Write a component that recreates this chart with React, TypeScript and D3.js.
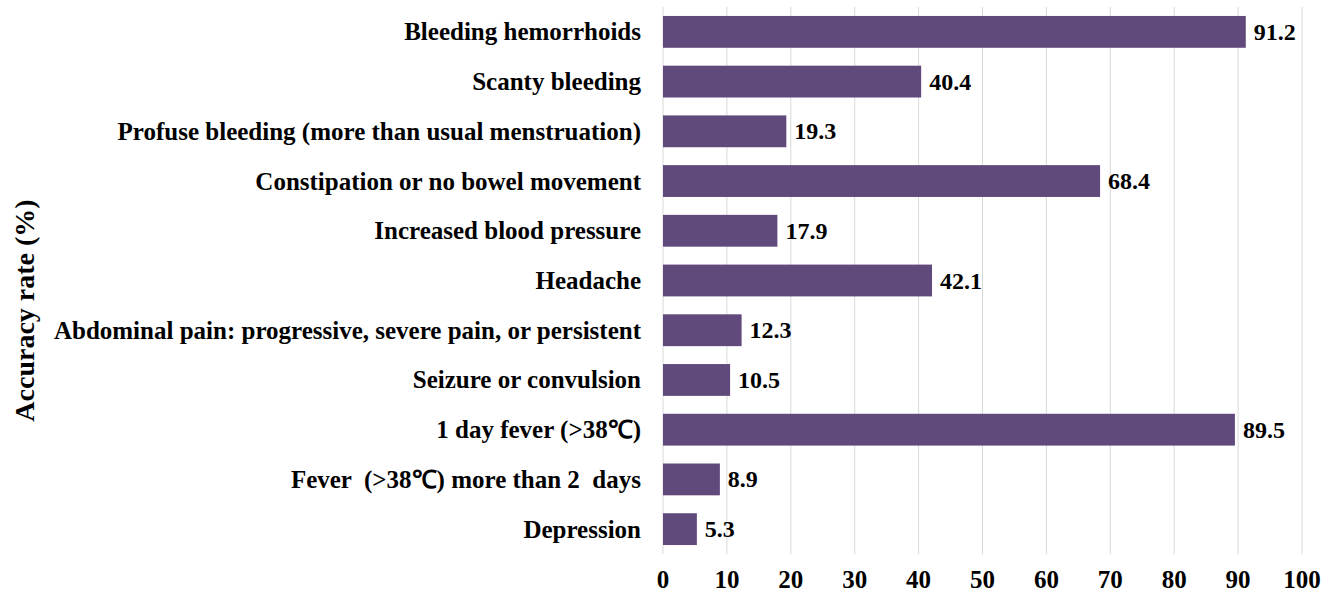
import React from "react";
import * as d3 from "d3";

const categories = [
  "Bleeding hemorrhoids",
  "Scanty bleeding",
  "Profuse bleeding (more than usual menstruation)",
  "Constipation or no bowel movement",
  "Increased blood pressure",
  "Headache",
  "Abdominal pain: progressive, severe pain, or persistent",
  "Seizure or convulsion",
  "1 day fever (>38℃)",
  "Fever  (>38℃) more than 2  days",
  "Depression",
];
const values = [91.2, 40.4, 19.3, 68.4, 17.9, 42.1, 12.3, 10.5, 89.5, 8.9, 5.3];
const xTicks = [0, 10, 20, 30, 40, 50, 60, 70, 80, 90, 100];

const W = 1325;
const H = 594;
const font = "'Liberation Serif', 'Times New Roman', serif";

export default function App() {
  const x = d3.scaleLinear().domain([0, 100]).range([663, 1302]);
  const y = d3
    .scaleBand()
    .domain(categories)
    .range([7, 554])
    .paddingInner(0.36)
    .paddingOuter(0.18);

  return (
    <svg
      width={W}
      height={H}
      style={{ position: "absolute", left: 0, top: 0, background: "#fff" }}
      fontFamily={font}
      fontWeight="bold"
    >
      {xTicks.map((t) => (
        <line key={t} x1={x(t)} x2={x(t)} y1={7} y2={554} stroke="#d9d9d9" strokeWidth={1} />
      ))}
      {categories.map((c, i) => (
        <g key={c}>
          <rect x={x(0)} y={y(c)} width={x(values[i]) - x(0)} height={y.bandwidth()} fill="#604a7b" />
          <text
            x={641}
            y={y(c)! + y.bandwidth() / 2}
            textAnchor="end"
            dominantBaseline="central"
            fontSize={25}
            style={{ whiteSpace: "pre" }}
          >
            {c}
          </text>
          <text
            x={x(values[i]) + 8}
            y={y(c)! + y.bandwidth() / 2}
            dominantBaseline="central"
            fontSize={24}
          >
            {values[i]}
          </text>
        </g>
      ))}
      {xTicks.map((t) => (
        <text key={t} x={x(t)} y={579} textAnchor="middle" dominantBaseline="central" fontSize={25}>
          {t}
        </text>
      ))}
      <text
        transform={`translate(24,${(7 + 554) / 2 + 30}) rotate(-90)`}
        textAnchor="middle"
        dominantBaseline="central"
        fontSize={28}
      >
        Accuracy rate (%)
      </text>
    </svg>
  );
}
